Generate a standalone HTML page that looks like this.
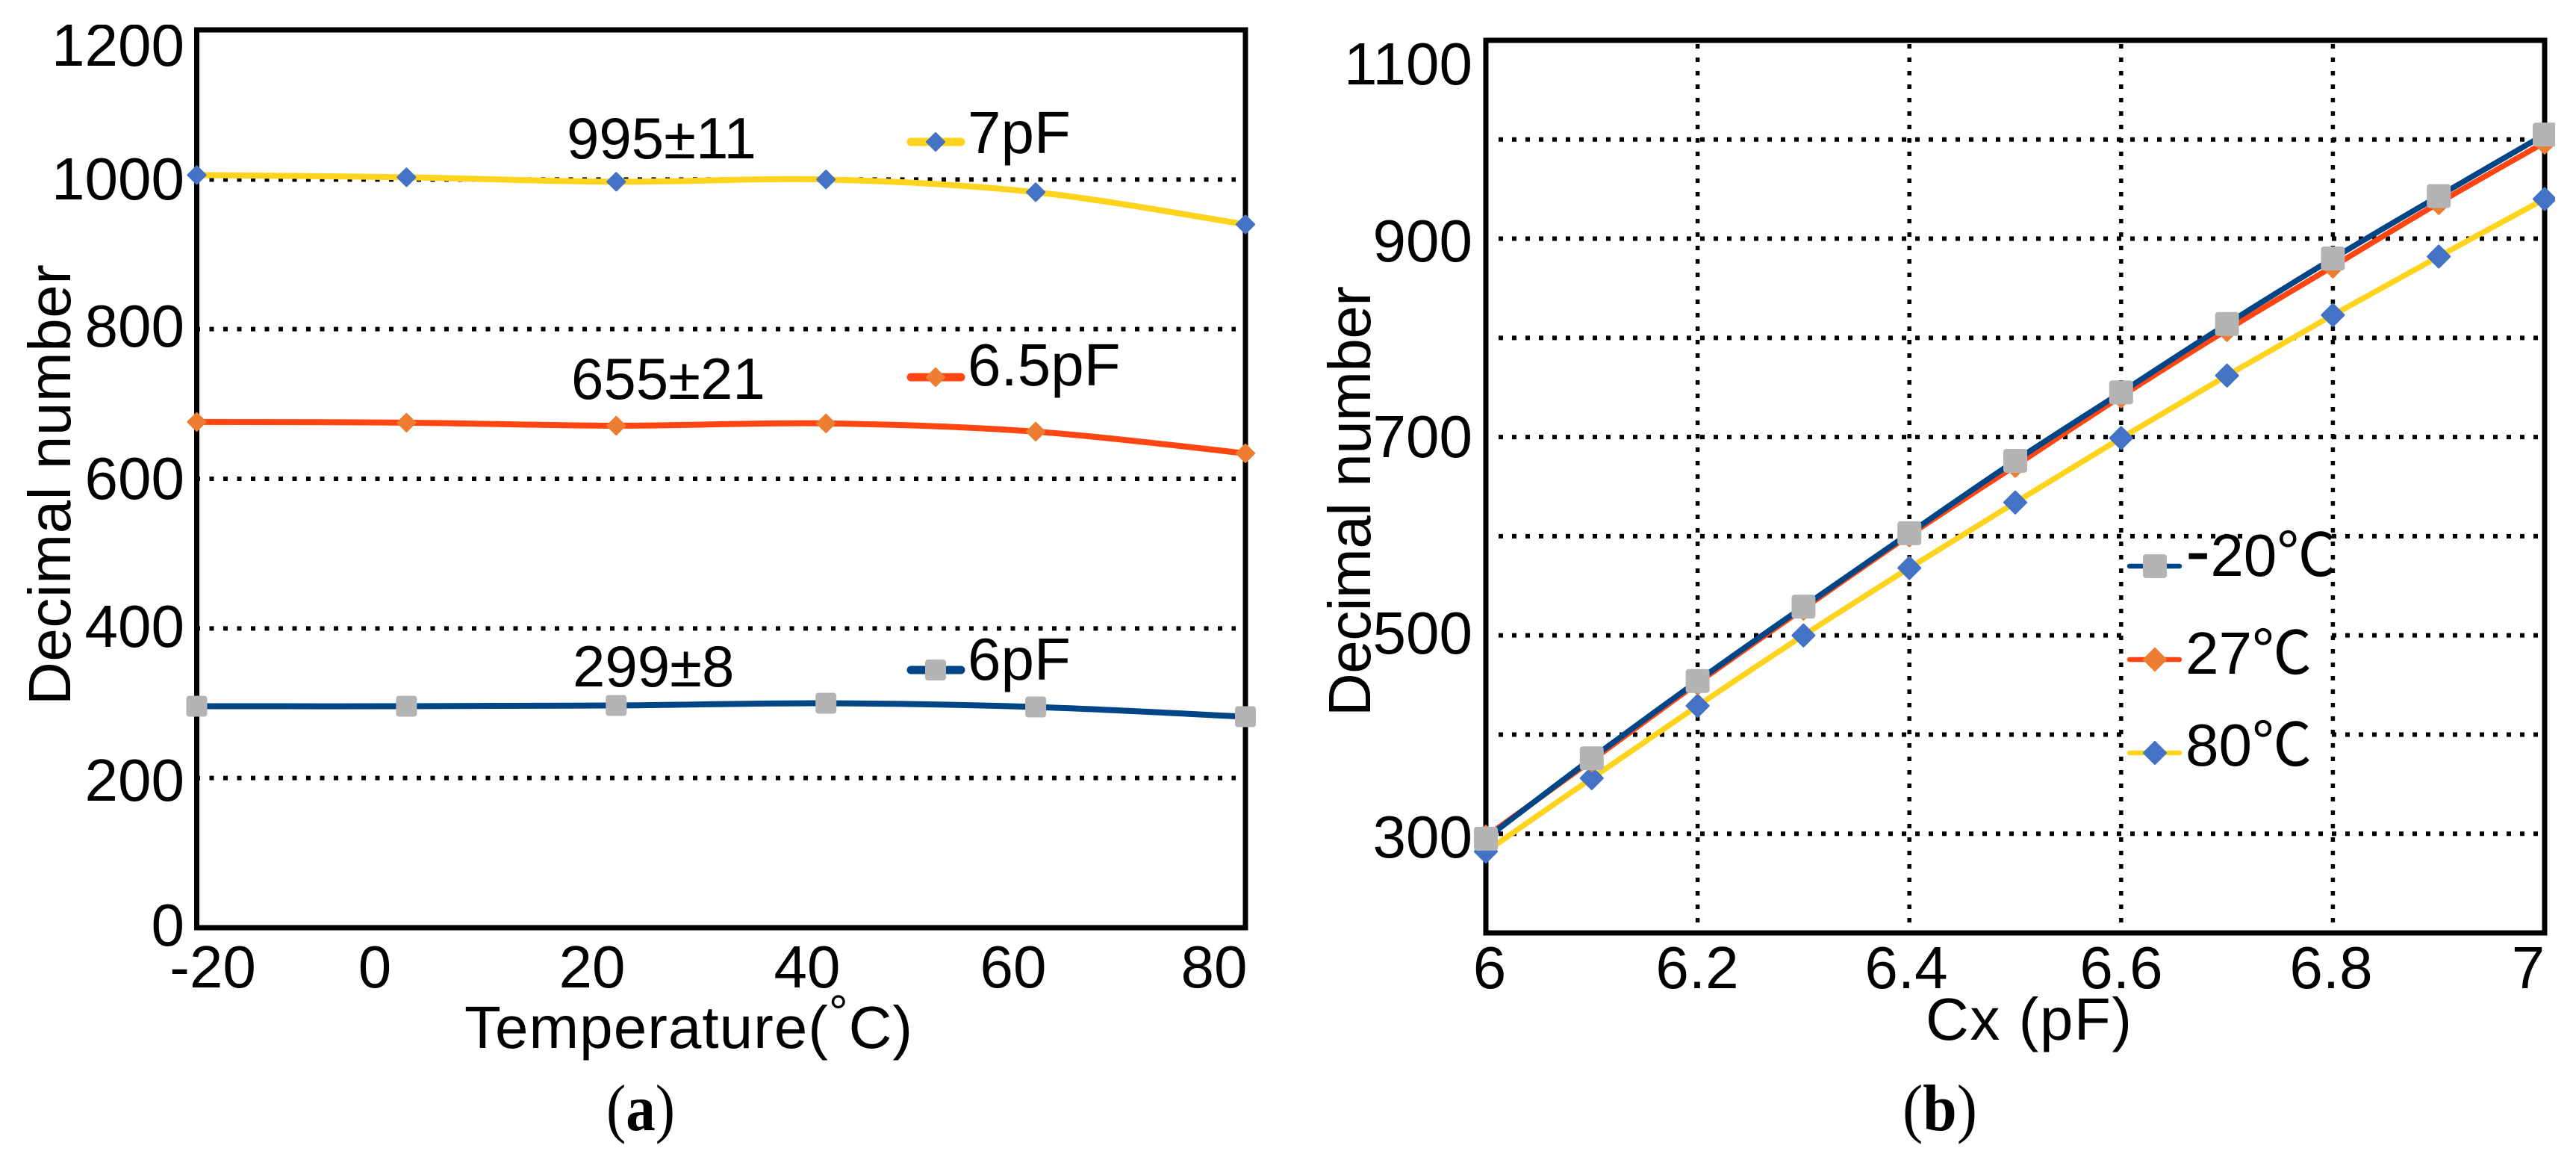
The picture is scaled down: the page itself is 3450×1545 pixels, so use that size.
<!DOCTYPE html>
<html lang="en">
<head>
<meta charset="utf-8">
<title>Decimal number vs temperature and capacitance</title>
<style>
html,body{margin:0;padding:0;background:#fff}
svg{display:block}
text{font-family:"Liberation Sans","Noto Sans CJK SC",sans-serif;fill:#000}
.tick{font-size:80px}
.r{text-anchor:end}
.m{text-anchor:middle}
.leg{font-size:80px}
.ann{font-size:78px}
.title{font-size:80px}
.cap{font-family:"Liberation Serif","Noto Serif CJK SC",serif;font-size:88px}
</style>
</head>
<body>
<svg id="figure" xmlns="http://www.w3.org/2000/svg" width="3450" height="1545" viewBox="0 0 3450 1545">
<defs>
  <clipPath id="clipTopTick"><rect x="0" y="33" width="300" height="100"/></clipPath>
  <clipPath id="clipSeriesB"><rect x="1900" y="0" width="1522" height="1545"/></clipPath>
</defs>
<rect x="0" y="0" width="3450" height="1545" fill="#fff"/>

<g id="panelA">
  <g id="gridA"></g>
  <rect x="263.5" y="40" width="1404.5" height="1202" fill="none" stroke="#000" stroke-width="7"/>
  <g id="seriesA"></g>
  <g class="tick">
    <text class="r" x="247" y="88" clip-path="url(#clipTopTick)">1200</text>
    <text class="r" x="247" y="267">1000</text>
    <text class="r" x="247" y="464">800</text>
    <text class="r" x="247" y="668">600</text>
    <text class="r" x="247" y="866">400</text>
    <text class="r" x="247" y="1072">200</text>
    <text class="r" x="247" y="1266">0</text>
  </g>
  <g class="tick">
    <text class="m" x="285" y="1322">-20</text>
    <text class="m" x="502" y="1322">0</text>
    <text class="m" x="793" y="1322">20</text>
    <text class="m" x="1081" y="1322">40</text>
    <text class="m" x="1357" y="1322">60</text>
    <text class="m" x="1626" y="1322">80</text>
  </g>
  <text class="title" transform="translate(94 944) rotate(-90)" textLength="590">Decimal number</text>
  <text class="title" x="622" y="1403" textLength="600">Temperature(<tspan dy="-26" font-size="64">°</tspan><tspan dy="26">C)</tspan></text>
  <text class="ann" x="759" y="212">995±11</text>
  <text class="ann" x="765" y="534">655±21</text>
  <text class="ann" x="767" y="919">299±8</text>
  <text class="leg" x="1296" y="205">7pF</text>
  <text class="leg" x="1296" y="516">6.5pF</text>
  <text class="leg" x="1296" y="910">6pF</text>
  <text class="cap" x="812" y="1513" textLength="92" lengthAdjust="spacingAndGlyphs">(<tspan font-weight="bold">a</tspan>)</text>
</g>

<g id="panelB">
  <g id="gridB"></g>
  <rect x="3003" y="712" width="119" height="12" fill="#fff"/>
  <rect x="2846" y="724" width="274" height="330" fill="#fff"/>
  <rect x="1990" y="54" width="1418" height="1195" fill="none" stroke="#000" stroke-width="7"/>
  <g id="seriesB" clip-path="url(#clipSeriesB)"></g>
  <g class="tick">
    <text class="r" x="1972" y="113">1100</text>
    <text class="r" x="1972" y="350">900</text>
    <text class="r" x="1972" y="612">700</text>
    <text class="r" x="1972" y="875">500</text>
    <text class="r" x="1972" y="1148">300</text>
  </g>
  <g class="tick">
    <text class="m" x="1995" y="1323">6</text>
    <text class="m" x="2273" y="1323">6.2</text>
    <text class="m" x="2553" y="1323">6.4</text>
    <text class="m" x="2841" y="1323">6.6</text>
    <text class="m" x="3122" y="1323">6.8</text>
    <text class="m" x="3386" y="1323">7</text>
  </g>
  <text class="title" transform="translate(1835 959) rotate(-90)" textLength="576">Decimal number</text>
  <text class="title" x="2579" y="1392" textLength="276">Cx (pF)</text>
  <text class="leg" x="2927" y="771"><tspan font-size="100">-</tspan>20℃</text>
  <text class="leg" x="2927" y="902">27℃</text>
  <text class="leg" x="2927" y="1025">80℃</text>
  <text class="cap" x="2548" y="1513" textLength="100" lengthAdjust="spacingAndGlyphs">(<tspan font-weight="bold">b</tspan>)</text>
</g>
</svg>

<script>
// Panel (a): decimal number against temperature
const tempCategories = [-20, 0, 20, 40, 60, 80];
const tempGridTicks = [200, 400, 600, 800, 1000];
const values7pF = [1006, 1003, 997, 1000, 983, 940];
const values6p5pF = [676, 675, 671, 674, 663, 634];
const values6pF = [296, 296, 297, 300, 295, 282];

// Panel (b): decimal number against Cx
const cxCategories = [6, 6.1, 6.2, 6.3, 6.4, 6.5, 6.6, 6.7, 6.8, 6.9, 7];
const cxGridXTicks = [6.2, 6.4, 6.6, 6.8];
const cxGridYTicks = [300, 400, 500, 600, 700, 800, 900, 1000];
const valuesMinus20 = [295, 376, 454, 529, 603, 676, 745, 814, 880, 943, 1005];
const values27 = [297, 374, 452, 527, 601, 671, 741, 808, 872, 936, 997];
const values80 = [282, 356, 429, 500, 568, 634, 699, 762, 823, 882, 940];

const NS = 'http://www.w3.org/2000/svg';
const xA = i => 263.5 + i * (1668 - 263.5) / (tempCategories.length - 1);
const yA = v => 1242 - v * (1242 - 40) / 1200;
const xB = v => 1990 + (v - 6) * (3408 - 1990);
const yB = v => 1249 - (v - 200) * (1249 - 54) / 900;

function make(tag, attrs, parent) {
  const el = document.createElementNS(NS, tag);
  for (const k in attrs) el.setAttribute(k, attrs[k]);
  parent.appendChild(el);
  return el;
}
function smoothPath(pts) {
  let d = 'M' + pts[0][0] + ' ' + pts[0][1];
  for (let i = 0; i < pts.length - 1; i++) {
    const p0 = pts[Math.max(i - 1, 0)], p1 = pts[i], p2 = pts[i + 1], p3 = pts[Math.min(i + 2, pts.length - 1)];
    const c1x = p1[0] + (p2[0] - p0[0]) / 6, c1y = p1[1] + (p2[1] - p0[1]) / 6;
    const c2x = p2[0] - (p3[0] - p1[0]) / 6, c2y = p2[1] - (p3[1] - p1[1]) / 6;
    d += ' C' + c1x + ' ' + c1y + ' ' + c2x + ' ' + c2y + ' ' + p2[0] + ' ' + p2[1];
  }
  return d;
}
function drawMarker(parent, kind, cx, cy, half, color) {
  let el;
  if (kind === 'square') {
    el = make('rect', { x: cx - half, y: cy - half, width: half * 2, height: half * 2, rx: 4, fill: color }, parent);
  } else {
    const h = half - 1.5;
    el = make('polygon', { points: (cx - h) + ',' + cy + ' ' + cx + ',' + (cy - h) + ' ' + (cx + h) + ',' + cy + ' ' + cx + ',' + (cy + h), fill: color, stroke: color, 'stroke-width': 3, 'stroke-linejoin': 'round' }, parent);
  }
  
  
}
function drawSeries(parent, pts, lineColor, lineWidth, kind, half, markerColor, name) {
  const g = make('g', {}, parent);
  
  
  const line = make('path', { d: smoothPath(pts), fill: 'none', stroke: lineColor, 'stroke-width': lineWidth }, g);
  
  
  pts.forEach(p => drawMarker(g, kind, p[0], p[1], half, markerColor));
}
function drawLegendKey(parent, x1, x2, y, lineColor, lineWidth, kind, half, markerColor, mx) {
  const g = make('g', {}, parent);
  
  
  make('line', { x1: x1, x2: x2, y1: y, y2: y, stroke: lineColor, 'stroke-width': lineWidth, 'stroke-linecap': 'round' }, g);
  drawMarker(g, kind, mx, y, half, markerColor);
}
function gridLine(parent, x1, y1, x2, y2, w, dash) {
  const l = make('line', { x1: x1, y1: y1, x2: x2, y2: y2, stroke: '#000', 'stroke-width': w, 'stroke-dasharray': dash }, parent);
  
  
}

const YEL = '#ffd41e', ORG = '#ff4612', NAVY = '#004586', GRAY = '#b4b4b4', BD = '#4472c4', OD = '#ed7d31';

// Panel A
const gridA = document.getElementById('gridA');
tempGridTicks.forEach(t => gridLine(gridA, 262, yA(t), 1655, yA(t), 6, '6 12.5'));
const seriesA = document.getElementById('seriesA');
const ptsOf = (vals, fx, fy, cats) => vals.map((v, i) => [fx(cats ? cats[i] : i), fy(v)]);
drawSeries(seriesA, ptsOf(values7pF, xA, yA), YEL, 8, 'diamond', 13, BD, 'series-7pf');
drawSeries(seriesA, ptsOf(values6p5pF, xA, yA), ORG, 8, 'diamond', 13, OD, 'series-6-5pf');
drawSeries(seriesA, ptsOf(values6pF, xA, yA), NAVY, 8, 'square', 14, GRAY, 'series-6pf');
drawLegendKey(seriesA, 1220, 1287, 190, YEL, 11, 'diamond', 13, BD, 1253);
drawLegendKey(seriesA, 1220, 1287, 505, ORG, 11, 'diamond', 13, OD, 1253);
drawLegendKey(seriesA, 1220, 1287, 897, NAVY, 11, 'square', 14, GRAY, 1253);

// Panel B
const gridB = document.getElementById('gridB');
cxGridYTicks.forEach(t => gridLine(gridB, 2007, yB(t), 3404, yB(t), 6, '6 12'));
cxGridXTicks.forEach(t => gridLine(gridB, xB(t), 59, xB(t), 1235, 5.5, '6 12'));
const seriesB = document.getElementById('seriesB');
drawSeries(seriesB, ptsOf(values80, xB, yB, cxCategories), YEL, 7.5, 'diamond', 16, BD, 'series-80c');
drawSeries(seriesB, ptsOf(values27, xB, yB, cxCategories), ORG, 7.5, 'diamond', 16, OD, 'series-27c');
drawSeries(seriesB, ptsOf(valuesMinus20, xB, yB, cxCategories), NAVY, 7.5, 'square', 16, GRAY, 'series-minus-20c');
drawLegendKey(seriesB, 2852, 2919, 758, NAVY, 6.5, 'square', 16, GRAY, 2886);
drawLegendKey(seriesB, 2852, 2919, 883, ORG, 6.5, 'diamond', 16, OD, 2886);
drawLegendKey(seriesB, 2852, 2919, 1008, YEL, 6.5, 'diamond', 16, BD, 2886);
</script>
</body>
</html>
